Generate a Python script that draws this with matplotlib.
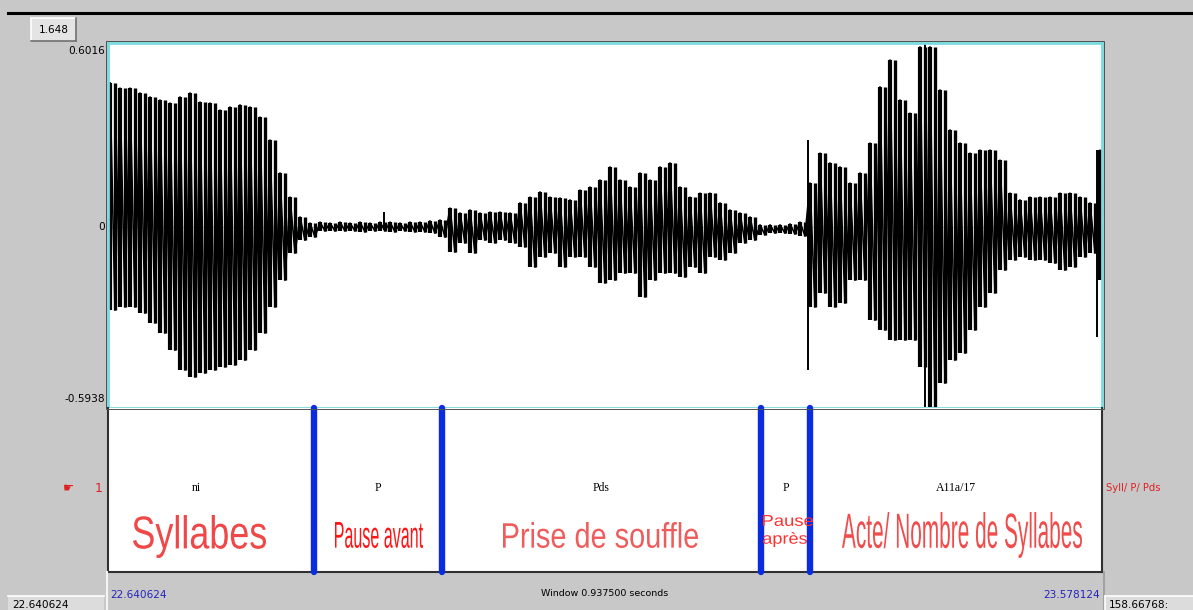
import numpy as np
import matplotlib
matplotlib.use("Agg")
import matplotlib.pyplot as plt
from matplotlib.textpath import TextPath
from matplotlib.patches import PathPatch, Rectangle
from matplotlib.font_manager import FontProperties
from matplotlib.transforms import Affine2D
from matplotlib.lines import Line2D

# ---------------- data ----------------
WIN_START = 22.640624
WIN_END = 23.578124
Y_MAX = 0.6016
Y_MIN = -0.5938
ZOOM_LABEL = "1.648"
TOTAL_LABEL = "158.66768"

# waveform envelope (upper peaks / lower troughs), read every ~9.4 ms
wave_upper = [
    0.471, 0.454, 0.454, 0.438, 0.425, 0.415, 0.405, 0.425, 0.438, 0.408,
    0.405, 0.382, 0.392, 0.399, 0.392, 0.359, 0.284, 0.176, 0.097, 0.032,
    0.012, 0.015, 0.012, 0.015, 0.012, 0.015, 0.012, 0.015, 0.015, 0.012,
    0.015, 0.015, 0.019, 0.022, 0.061, 0.045, 0.055, 0.045, 0.048, 0.048,
    0.045, 0.078, 0.097, 0.114, 0.097, 0.094, 0.088, 0.120, 0.130, 0.153,
    0.196, 0.153, 0.130, 0.176, 0.153, 0.196, 0.209, 0.130, 0.097, 0.110,
    0.110, 0.078, 0.055, 0.045, 0.032, 0.006, 0.006, 0.006, 0.009, 0.015,
    0.143, 0.241, 0.209, 0.196, 0.143, 0.176, 0.274, 0.458, 0.546, 0.415,
    0.372, 0.589, 0.589, 0.448, 0.317, 0.274, 0.241, 0.251, 0.251, 0.218,
    0.110, 0.088, 0.097, 0.097, 0.097, 0.110, 0.110, 0.097, 0.078, 0.251,
]
wave_lower = [
    -0.273, -0.263, -0.263, -0.283, -0.315, -0.348, -0.404, -0.469, -0.492, -0.479,
    -0.469, -0.459, -0.453, -0.437, -0.404, -0.348, -0.263, -0.175, -0.086, -0.044,
    -0.034, -0.014, -0.014, -0.014, -0.014, -0.017, -0.014, -0.014, -0.017, -0.014,
    -0.017, -0.017, -0.021, -0.034, -0.083, -0.053, -0.086, -0.044, -0.053, -0.044,
    -0.053, -0.066, -0.132, -0.099, -0.086, -0.132, -0.099, -0.099, -0.132, -0.184,
    -0.175, -0.152, -0.152, -0.230, -0.175, -0.152, -0.152, -0.165, -0.132, -0.152,
    -0.099, -0.109, -0.086, -0.053, -0.044, -0.027, -0.021, -0.021, -0.024, -0.030,
    -0.263, -0.217, -0.263, -0.250, -0.175, -0.175, -0.306, -0.338, -0.371, -0.371,
    -0.371, -0.459, -0.590, -0.512, -0.437, -0.414, -0.338, -0.263, -0.217, -0.142,
    -0.109, -0.099, -0.109, -0.109, -0.119, -0.142, -0.132, -0.099, -0.086, -0.175,
]
# isolated spikes
spike_times = [22.9009, 23.3008, 23.4111, 23.5733]
spike_top = [0.048, 0.284, 0.600, 0.251]
spike_bottom = [-0.010, -0.469, -0.590, -0.362]

# annotation tier
tier_bounds = [22.8349, 22.9556, 23.2565, 23.3027]
tier_edges = [22.6122, 22.8349, 22.9556, 23.2565, 23.3027, 23.5781]
tier_labels = ["ni", "P", "Pds", "P", "A11a/17"]
tier_number = "1"
tier_name = "Syll/ P/ Pds"

# ---------------- figure ----------------
W, H = 1193, 610
BG = "#c8c8c8"
fig = plt.figure(figsize=(W / 100, H / 100), dpi=100, facecolor=BG)


def fx(x):
    return x / W


def fy(y):
    return 1 - y / H


def fig_line(x0, y0, x1, y1, **kw):
    fig.add_artist(Line2D([fx(x0), fx(x1)], [fy(y0), fy(y1)],
                          transform=fig.transFigure, **kw))


def fig_rect(x0, y0, x1, y1, **kw):
    fig.add_artist(Rectangle((fx(x0), fy(y1)), fx(x1) - fx(x0), fy(y0) - fy(y1),
                             transform=fig.transFigure, **kw))


def fit_text(s, x0, y0, x1, y1, color, family="Liberation Sans"):
    tp = TextPath((0, 0), s, size=50, prop=FontProperties(family=family))
    ext = tp.get_extents()
    sx = (x1 - x0) / ext.width
    sy = (y1 - y0) / ext.height
    tr = (Affine2D().translate(-ext.x0, -ext.y0)
          .scale(sx / W, sy / H)
          .translate(fx(x0), fy(y1)))
    path = tr.transform_path(tp)
    fig.add_artist(PathPatch(path, fc=color, ec="none", lw=0,
                             transform=fig.transFigure))


# top black line
fig_line(8, 13, W, 13, color="black", lw=2.2)

# waveform axes
ax = fig.add_axes([fx(108), fy(408), 994 / W, 365 / H])
ax.set_facecolor("white")
ax.set_xlim(WIN_START, WIN_END)
ax.set_ylim(Y_MIN, Y_MAX)
ax.set_xticks([])
ax.set_yticks([])
for sp in ax.spines.values():
    sp.set_color("#7adbe0")
    sp.set_linewidth(2.0)
    sp.set_zorder(6)
ax.axhline(0, color="#a8dde6", lw=0.8, zorder=1)
fig_rect(106.3, 41.3, 1103.7, 409, fc="none", ec="#505050", lw=0.7)

step = (WIN_END - WIN_START) / 994 * 10
env_t = WIN_START + np.arange(len(wave_upper)) * step + step * 0.2
up = np.array(wave_upper)
lo = np.array(wave_lower)
tt = np.empty(2 * len(env_t))
yy = np.empty(2 * len(env_t))
tt[0::2] = env_t
tt[1::2] = env_t + step / 2
yy[0::2] = up
yy[1::2] = lo
ax.plot(tt, yy, color="black", lw=1.2, zorder=3)
ax.vlines(env_t, lo, up, color="black", lw=3.0, zorder=3)
ax.vlines(env_t + step / 2, lo, up, color="black", lw=2.4, zorder=3)
ax.vlines(spike_times, spike_bottom, spike_top, color="black", lw=1.4, zorder=3)

# y labels
lab_kw = dict(fontsize=7.6, family="DejaVu Sans", color="black", ha="right", va="center")
fig.text(fx(105), fy(51), f"{Y_MAX:.4f}", **lab_kw)
fig.text(fx(105), fy(227), "0", **lab_kw)
fig.text(fx(105), fy(399), f"{Y_MIN:.4f}", **lab_kw)

# zoom button
fig_rect(31, 18, 76, 41, fc="#e4e4e4", ec="none")
fig_line(31, 18, 76, 18, color="white", lw=1.2)
fig_line(31, 18, 31, 41, color="white", lw=1.2)
fig_line(31, 41, 76, 41, color="#707070", lw=1.2)
fig_line(76, 18, 76, 41, color="#707070", lw=1.2)
fig.text(fx(53.5), fy(30), ZOOM_LABEL, fontsize=7.6, ha="center", va="center")

# tier axes
axt = fig.add_axes([fx(108), fy(572), 994 / W, 164 / H])
axt.set_facecolor("white")
axt.set_xlim(WIN_START, WIN_END)
axt.set_ylim(0, 1)
axt.set_xticks([])
axt.set_yticks([])
for name, sp in axt.spines.items():
    sp.set_color("#303030")
    sp.set_linewidth(1.5)
axt.spines["top"].set_visible(False)
vl = axt.vlines(tier_bounds, 0, 1, color="#0a2ce0", lw=4.6, zorder=4, clip_on=False)
vl.set_capstyle("round")

mids = [(a + b) / 2 for a, b in zip(tier_edges[:-1], tier_edges[1:])]
for m, lab in zip(mids, tier_labels):
    axt.text(m, 0.51, lab, fontsize=8.5, family="Liberation Serif",
             ha="center", va="center", color="black", zorder=5)

# red annotations (stretched to the boxes they occupy)
fit_text("Syllabes", 133, 515, 266, 558, "#f04848")
fit_text("Pause avant", 335, 522, 423, 548, "#ff1414")
fit_text("Prise de souffle", 503, 522, 698, 548, "#ee5c5c")
fit_text("Pause", 763, 515, 813, 526, "#ff3030")
fit_text("après", 763, 532, 807, 547, "#ff3030")
fit_text("Acte/ Nombre de Syllabes", 842, 512, 1082, 558, "#f04c4c")

# tier number / name
fig.text(fx(63), fy(488), "\u261b", fontsize=9, color="#e02020", ha="left", va="center",
         family="DejaVu Sans")
fig.text(fx(103), fy(488), tier_number, fontsize=9, color="#e02020", ha="right", va="center")
fig.text(fx(1106), fy(488), tier_name, fontsize=7.2, color="#e02020", ha="left", va="center")

# bottom strip
fig_line(106.5, 572, 106.5, 610, color="#f4f4f4", lw=1.5)
fig_line(1103.5, 572, 1103.5, 610, color="#9a9a9a", lw=1.2)
fig.text(fx(110), fy(595), f"{WIN_START:.6f}", fontsize=7.6, color="#2424c0",
         ha="left", va="center")
fig.text(fx(1100), fy(595), f"{WIN_END:.6f}", fontsize=7.6, color="#2424c0",
         ha="right", va="center")
fig.text(fx(605), fy(594), f"Window {WIN_END - WIN_START:.6f} seconds", fontsize=6.8,
         color="black", ha="center", va="center")

fig_rect(8, 596, 104, 612, fc="#dcdcdc", ec="none")
fig_line(8, 596, 104, 596, color="white", lw=1.2)
fig.text(fx(12), fy(605), f"{WIN_START:.6f}", fontsize=7.6, color="black",
         ha="left", va="center")
fig_rect(1105, 596, 1195, 612, fc="#dcdcdc", ec="none")
fig_line(1105, 596, 1195, 596, color="white", lw=1.2)
fig_line(1105, 596, 1105, 612, color="white", lw=1.2)
fig.text(fx(1109), fy(605), TOTAL_LABEL + ":", fontsize=7.6, color="black",
         ha="left", va="center")

fig.savefig("out.png", dpi=100, facecolor=BG)
